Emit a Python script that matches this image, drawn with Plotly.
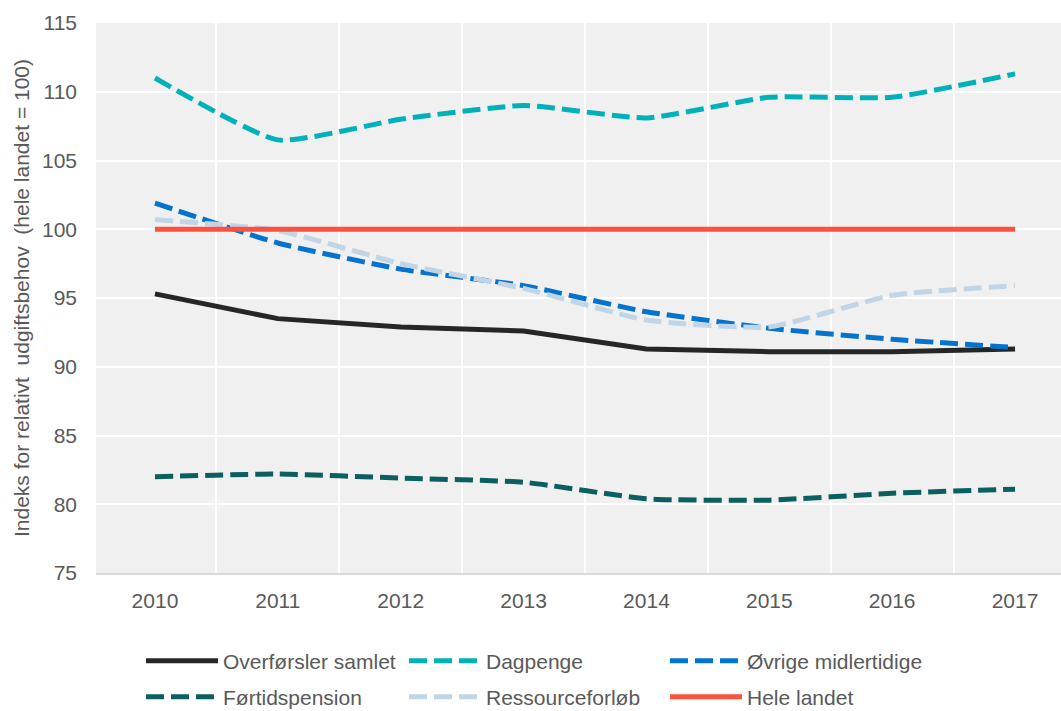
import plotly.graph_objects as go

years = [2010, 2011, 2012, 2013, 2014, 2015, 2016, 2017]

overforsler = [95.3, 93.5, 92.9, 92.6, 91.3, 91.1, 91.1, 91.3]
dagpenge = [111.0, 106.5, 108.0, 109.0, 108.1, 109.6, 109.6, 111.3]
ovrige = [101.9, 99.0, 97.1, 95.9, 94.0, 92.8, 92.0, 91.4]
fortid = [82.0, 82.2, 81.9, 81.6, 80.4, 80.3, 80.8, 81.1]
ressource = [100.7, 99.9, 97.5, 95.7, 93.4, 92.9, 95.2, 95.9]
hele = [100, 100, 100, 100, 100, 100, 100, 100]

names = ["Overførsler samlet", "Dagpenge", "Øvrige midlertidige",
         "Førtidspension", "Ressourceforløb", "Hele landet"]

DASH = "18px,7px"
series = [
    (names[0], overforsler, "#262626", "solid", "linear"),
    (names[1], dagpenge, "#00b1ba", DASH, "spline"),
    (names[2], ovrige, "#0473ce", DASH, "spline"),
    (names[3], fortid, "#0b5f5e", DASH, "spline"),
    (names[4], ressource, "#c2d5e6", DASH, "spline"),
    (names[5], hele, "#fb5141", "solid", "linear"),
]

legend_ids = ["legend", "legend2", "legend3", "legend4", "legend5", "legend6"]

fig = go.Figure()
for (name, vals, color, dash, shape), lid in zip(series, legend_ids):
    line = dict(color=color, width=5, dash=dash, shape=shape)
    if shape == "spline":
        line["smoothing"] = 0.5
    fig.add_trace(go.Scatter(x=years, y=vals, name=name, mode="lines",
                             line=line, legend=lid))

txt = "#595959"
font = "Liberation Sans, Arial, sans-serif"

L, R, T, B = 96, 1061, 23, 573
W, H = R - L, B - T


def px_x(px):
    return (px - L) / W


def px_y(py):
    return (B - py) / H


# legend cells: (text-left x in px, row centre y in px)
col_text_x = [225, 488, 749]
row_y = [661, 697]
ITEMW = 72

layout_legends = {}
for i, lid in enumerate(legend_ids):
    r, c = divmod(i, 3)
    layout_legends[lid] = dict(
        orientation="h",
        x=px_x(col_text_x[c] - ITEMW - 12), xanchor="left",
        y=px_y(row_y[r]), yanchor="middle",
        itemwidth=ITEMW,
        font=dict(size=21, color=txt, family=font),
        bgcolor="rgba(0,0,0,0)",
    )

fig.update_layout(
    width=1061, height=711,
    margin=dict(l=L, r=1061 - R, t=T, b=711 - B, autoexpand=False),
    paper_bgcolor="white",
    plot_bgcolor="#f0f0f0",
    font=dict(family=font, color=txt, size=21),
    xaxis=dict(
        range=[2009.52, 2017.374], automargin=False,
        tickvals=years, ticktext=[str(y) for y in years],
        showgrid=False, zeroline=False,
        showline=True, linecolor="#d9d9d9", linewidth=2,
        ticks="", ticklabelstandoff=8,
        tickfont=dict(size=21, color=txt),
        minor=dict(tick0=2009.5, dtick=1, showgrid=True, gridcolor="white", gridwidth=2),
    ),
    yaxis=dict(
        range=[75, 115], dtick=5, tick0=75, automargin=False,
        showgrid=True, gridcolor="white", gridwidth=2,
        zeroline=False, showline=False, ticks="",
        ticklabelstandoff=18,
        tickfont=dict(size=21, color=txt),
        title=dict(text="Indeks for relativt&nbsp; udgiftsbehov&nbsp; (hele landet = 100)",
                   font=dict(size=21, color=txt), standoff=6),
    ),
    showlegend=True,
    **layout_legends,
)

fig.write_html(
    "out.html",
    config={"displayModeBar": False},
    post_script="document.body.style.margin='0';document.body.style.overflow='hidden';",
)
